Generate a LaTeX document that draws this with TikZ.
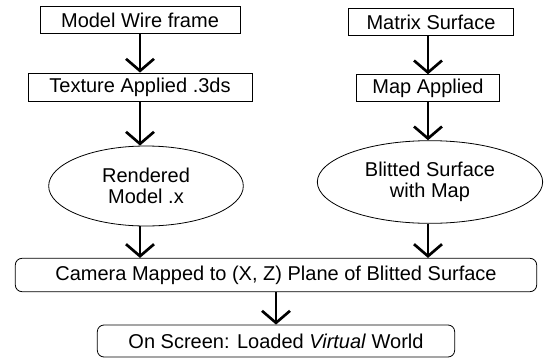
\documentclass[tikz,border=0pt]{standalone}
\usepackage{fontspec}
\setmainfont{Liberation Sans}
\usetikzlibrary{arrows.meta, positioning, shapes.geometric}

\begin{document}
\begin{tikzpicture}[
      x=0.75pt, y=-0.75pt,
      box/.style={draw=black, line width=0.6pt, inner sep=0pt,
                  minimum height=20pt, align=center,
                  font=\fontsize{15}{16}\selectfont},
      rbox/.style={box, rounded corners=5pt},
      oval/.style={box, ellipse},
      ar/.style={-{Straight Barb[length=9pt, width=21pt]}, line width=2pt}
    ]
    \useasboundingbox (0,0) rectangle (544,358);
    % left column
    \node[box, minimum width=150pt] (wire) at (140,20) {Model Wire frame};
    \node[box, minimum width=168pt, minimum height=21pt] (tex) at (140,87) {Texture Applied .3ds};
    \node[oval, minimum width=146pt, minimum height=60pt] (rend) at (146,186) {Rendered\\Model .x};
    % right column
    \node[box, minimum width=124pt] (mat) at (431,22) {Matrix Surface};
    \node[box, minimum width=107pt] (map) at (428,88) {Map Applied};
    \node[oval, minimum width=169pt, minimum height=62pt] (blit) at (430,182) {Blitted Surface\\with Map};
    % bottom
    \node[rbox, minimum width=391pt, minimum height=25pt] (cam) at (276,275) {Camera Mapped to (X, Z) Plane of Blitted Surface};
    \node[rbox, minimum width=268pt, minimum height=24pt] (scr) at (276,341) {On Screen: Loaded \textit{Virtual} World};
    \draw[ar] (wire) -- (tex);
    \draw[ar] (tex) -- (tex |- rend.north);
    \draw[ar] (rend.south -| tex) -- (cam.north -| tex);
    \draw[ar] (mat.south -| map) -- (map);
    \draw[ar] (map) -- (map |- blit.north);
    \draw[ar] (blit.south -| map) -- (cam.north -| map);
    \draw[ar] (cam) -- (scr);
  \end{tikzpicture}
\end{document}
